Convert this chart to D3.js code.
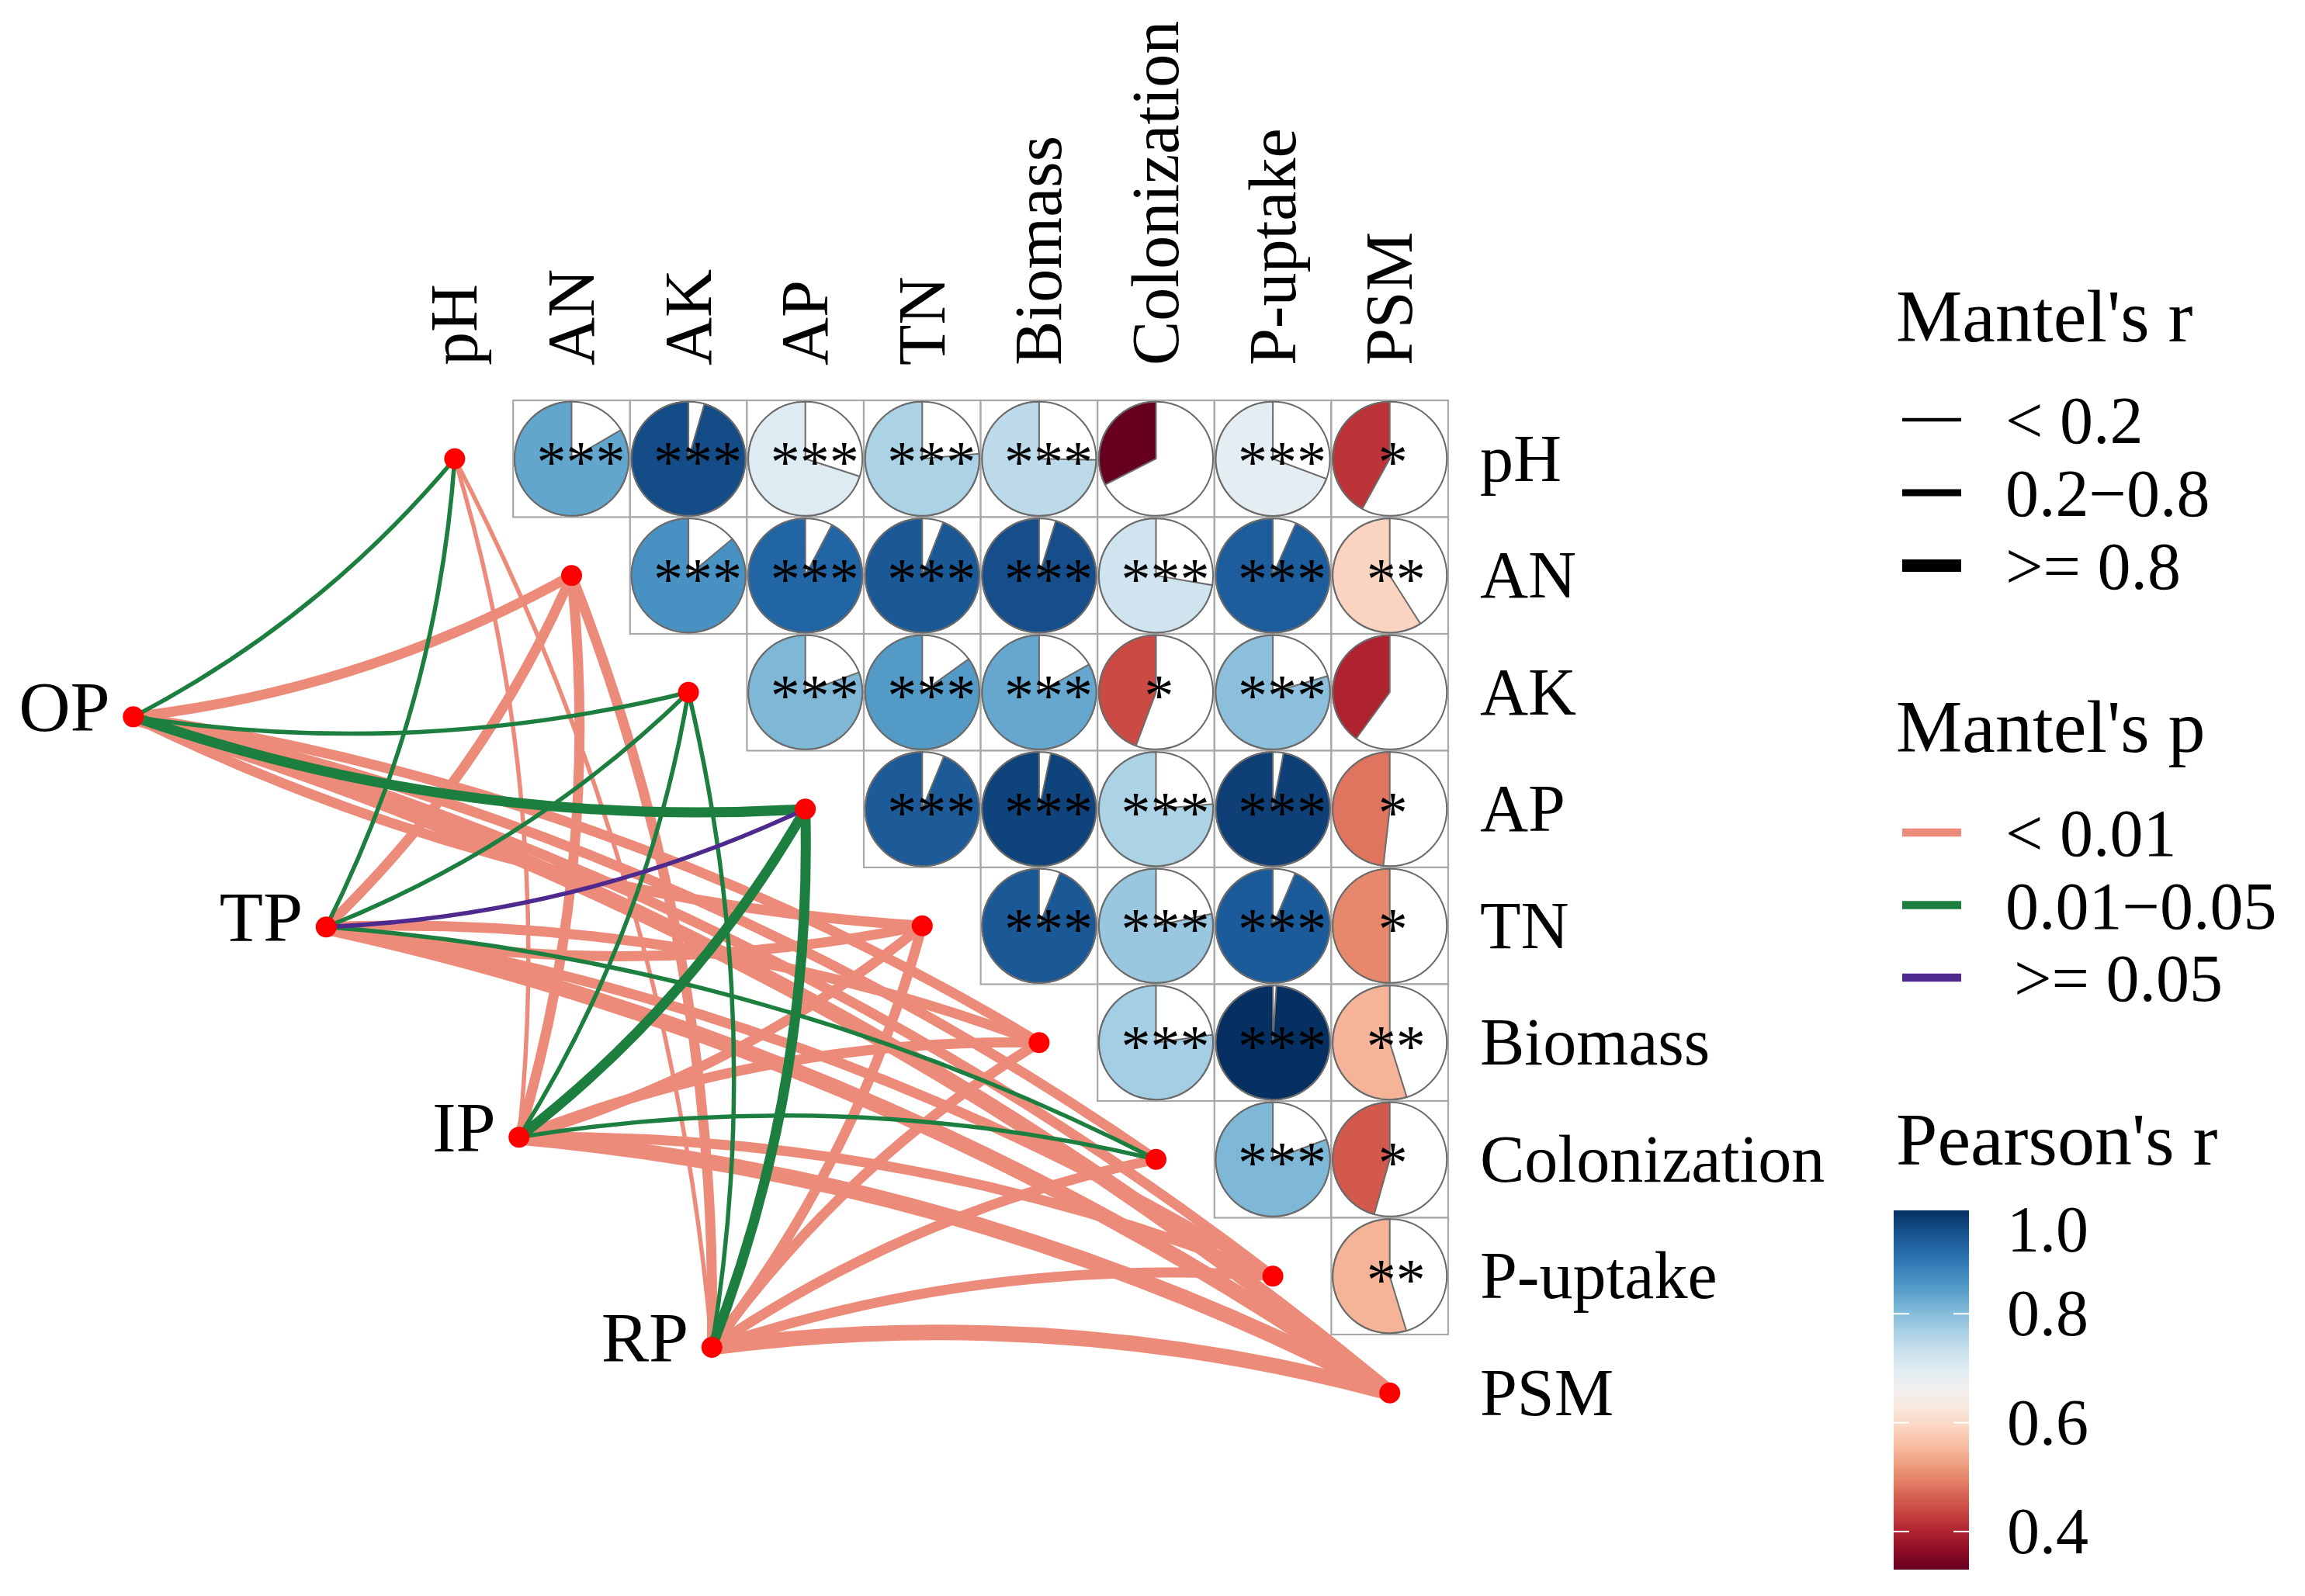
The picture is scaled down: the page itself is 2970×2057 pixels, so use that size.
<!DOCTYPE html>
<html>
<head>
<meta charset="utf-8">
<script src="https://d3js.org/d3.v7.min.js"></script>
<style>
  body { margin: 0; background: #fff; }
  text { font-family: "Liberation Serif", "Times New Roman", serif; fill: #000; }
</style>
</head>
<body>
<div id="chart"></div>
<script>
// variables of the correlation triangle (also the link targets)
const vars = ["pH", "AN", "AK", "AP", "TN", "Biomass", "Colonization", "P-uptake", "PSM"];

// Pearson's r, upper triangle, row i against vars i+1 .. end
const corR = [
  [0.834, 0.955, 0.700, 0.764, 0.747, 0.325, 0.693, 0.420],
  [0.861, 0.923, 0.940, 0.953, 0.723, 0.934, 0.590],
  [0.807, 0.849, 0.831, 0.443, 0.796, 0.400],
  [0.938, 0.967, 0.764, 0.970, 0.482],
  [0.940, 0.784, 0.936, 0.500],
  [0.772, 0.990, 0.548],
  [0.807, 0.456],
  [0.547]
];
const corStars = [
  ["***", "***", "***", "***", "***", "", "***", "*"],
  ["***", "***", "***", "***", "***", "***", "**"],
  ["***", "***", "***", "*", "***", ""],
  ["***", "***", "***", "***", "*"],
  ["***", "***", "***", "*"],
  ["***", "***", "**"],
  ["***", "*"],
  ["**"]
];

// Mantel test links, one entry per target in vars order
const specs = ["OP", "TP", "IP", "RP"];
const mantelRLevels = ["< 0.2", "0.2\u22120.8", ">= 0.8"];
const mantelPLevels = ["< 0.01", "0.01\u22120.05", ">= 0.05"];
const linkR = {
  OP: [0, 1, 0, 1, 1, 1, 1, 1, 2],
  TP: [0, 1, 0, 0, 1, 1, 0, 1, 2],
  IP: [0, 1, 0, 1, 1, 1, 0, 1, 2],
  RP: [0, 1, 0, 1, 1, 1, 1, 1, 2]
};
const linkP = {
  OP: [1, 0, 1, 1, 0, 0, 0, 0, 0],
  TP: [1, 0, 1, 2, 0, 0, 1, 0, 0],
  IP: [0, 0, 1, 1, 0, 0, 1, 0, 0],
  RP: [0, 0, 1, 1, 0, 0, 0, 0, 0]
};

const pearsonTicks = [0.4, 0.6, 0.8];
const pearsonLabels = [["0.4", 0.4], ["0.6", 0.6], ["0.8", 0.8], ["1.0", 0.955]];

// ---------- layout ----------
const W = 2970, H = 2057;
const cellW = 150.6, cellH = 150.5;
const gridLeft = 510.6, gridTop = 516;
const n = vars.length;

const svg = d3.select("#chart").append("svg")
  .attr("width", W).attr("height", H)
  .style("background", "#fff");

const x = d3.scaleLinear().domain([0, n - 1]).range([gridLeft + cellW / 2, gridLeft + cellW * (n - 0.5)]);
const y = d3.scaleLinear().domain([0, n - 1]).range([gridTop + cellH / 2, gridTop + cellH * (n - 0.5)]);

const color = d3.scaleSequential(d3.interpolateRdBu).domain([0.33, 0.99]).clamp(true);
const widthScale = d3.scaleOrdinal().domain([0, 1, 2]).range([5.5, 13, 20]);
const linkColor = d3.scaleOrdinal().domain([0, 1, 2]).range(["#ED8B7B", "#1D7F3F", "#4E2A8E"]);

// spec nodes laid out along a line in grid units
const specStart = [-2.75, 2.21], specEnd = [2.20, 7.61];
const specNodes = specs.map((s, i) => {
  const t = i / (specs.length - 1);
  return {
    name: s,
    x: x(specStart[0] + t * (specEnd[0] - specStart[0])),
    y: y(specStart[1] + t * (specEnd[1] - specStart[1]))
  };
});
const varNodes = vars.map((v, i) => ({ name: v, idx: i, x: x(i), y: y(i) }));

// ---------- links ----------
const links = [];
specNodes.forEach(s => {
  varNodes.forEach((v, j) => {
    links.push({ s, v, r: linkR[s.name][j], p: linkP[s.name][j] });
  });
});
links.sort((a, b) => a.p - b.p);

const midIdx = (n - 1) / 2;
function curvePath(a, b) {
  const dx = b.x - a.x, dy = b.y - a.y;
  const L = Math.hypot(dx, dy);
  // upper half targets bend to the right of travel, lower half to the left
  let nx, ny;
  if (b.idx <= midIdx) { nx = -dy / L; ny = dx / L; } else { nx = dy / L; ny = -dx / L; }
  const k = 0.1 * L;
  const cx = (a.x + b.x) / 2 + nx * k, cy = (a.y + b.y) / 2 + ny * k;
  return `M${a.x},${a.y}Q${cx},${cy} ${b.x},${b.y}`;
}

svg.append("g").selectAll("path").data(links).join("path")
  .attr("d", d => curvePath(d.s, d.v))
  .attr("fill", "none")
  .attr("stroke", d => linkColor(d.p))
  .attr("stroke-width", d => widthScale(d.r))
  .attr("stroke-linecap", "butt");

// ---------- correlation triangle ----------
const gGrid = svg.append("g");
const pieR = 73.5;
const arc = d3.arc().innerRadius(0).outerRadius(pieR);
const cells = [];
corR.forEach((row, i) => row.forEach((r, k) => {
  cells.push({ i, j: i + k + 1, r, stars: corStars[i][k] });
}));

gGrid.selectAll("rect").data(cells).join("rect")
  .attr("x", d => x(d.j) - cellW / 2)
  .attr("y", d => y(d.i) - cellH / 2)
  .attr("width", cellW).attr("height", cellH)
  .attr("fill", "#fff")
  .attr("stroke", "#a8a8a8")
  .attr("stroke-width", 2.2);

const pies = gGrid.selectAll("g.pie").data(cells).join("g")
  .attr("class", "pie")
  .attr("transform", d => `translate(${x(d.j)},${y(d.i)})`);
pies.append("circle").attr("r", pieR)
  .attr("fill", "#fff").attr("stroke", "#6b6b6b").attr("stroke-width", 2);
pies.append("path")
  .attr("d", d => arc({ startAngle: -d.r * 2 * Math.PI, endAngle: 0 }))
  .attr("fill", d => color(d.r))
  .attr("stroke", "#6b6b6b").attr("stroke-width", 2);
pies.append("text")
  .attr("x", d => 4 * d.stars.length)
  .attr("y", 30)
  .attr("text-anchor", "middle")
  .style("font-size", "76px")
  .text(d => d.stars);

// axis labels
svg.append("g").selectAll("text").data(vars).join("text")
  .attr("transform", (d, i) => `translate(${x(i) + 28.5},${gridTop - 45}) rotate(-90)`)
  .style("font-size", "86px")
  .text(d => d);
svg.append("g").selectAll("text").data(vars).join("text")
  .attr("x", gridLeft + cellW * n + 41)
  .attr("y", (d, i) => y(i) + 28.5)
  .style("font-size", "86px")
  .text(d => d);

// nodes
const allNodes = varNodes.concat(specNodes);
svg.append("g").selectAll("circle").data(allNodes).join("circle")
  .attr("cx", d => d.x).attr("cy", d => d.y).attr("r", 13.5)
  .attr("fill", "#FF0000");
svg.append("g").selectAll("text").data(specNodes).join("text")
  .attr("x", d => d.x - 30).attr("y", d => d.y + 18)
  .attr("text-anchor", "end")
  .style("font-size", "92px")
  .text(d => d.name);

// ---------- legends ----------
const lx = 2443, keyX1 = 2451, keyX2 = 2527, labX = 2584;
const legend = svg.append("g");
const legendKeyW = [4.5, 9, 16];

function title(txt, yy) {
  legend.append("text").attr("x", lx).attr("y", yy).style("font-size", "96px").text(txt);
}

title("Mantel's r", 440);
mantelRLevels.forEach((lab, i) => {
  const yy = 541 + i * 94;
  legend.append("line").attr("x1", keyX1).attr("x2", keyX2).attr("y1", yy).attr("y2", yy)
    .attr("stroke", "#000").attr("stroke-width", legendKeyW[i]);
  legend.append("text").attr("x", labX).attr("y", yy + 30).style("font-size", "86px").text(lab);
});

title("Mantel's p", 969);
mantelPLevels.forEach((lab, i) => {
  const yy = 1073 + i * 93.5;
  legend.append("line").attr("x1", keyX1).attr("x2", keyX2).attr("y1", yy).attr("y2", yy)
    .attr("stroke", linkColor(i)).attr("stroke-width", 10.5);
  legend.append("text").attr("x", labX + (i === 2 ? 11 : 0)).attr("y", yy + 30)
    .style("font-size", "86px").text(lab);
});

title("Pearson's r", 1501);
const barX = 2440, barW = 97, barTop = 1560, barBottom = 2023;
const barY = d3.scaleLinear().domain(color.domain()).range([barBottom, barTop]);
const grad = svg.append("defs").append("linearGradient")
  .attr("id", "rdbu").attr("x1", 0).attr("y1", 1).attr("x2", 0).attr("y2", 0);
d3.range(0, 1.0001, 0.05).forEach(t => {
  const v = color.domain()[0] + t * (color.domain()[1] - color.domain()[0]);
  grad.append("stop").attr("offset", t).attr("stop-color", color(v));
});
legend.append("rect").attr("x", barX).attr("y", barTop)
  .attr("width", barW).attr("height", barBottom - barTop)
  .attr("fill", "url(#rdbu)");
pearsonTicks.forEach(v => {
  const yy = barY(v);
  legend.append("line").attr("x1", barX).attr("x2", barX + 20).attr("y1", yy).attr("y2", yy)
    .attr("stroke", "#fff").attr("stroke-width", 2);
  legend.append("line").attr("x1", barX + barW - 20).attr("x2", barX + barW).attr("y1", yy).attr("y2", yy)
    .attr("stroke", "#fff").attr("stroke-width", 2);
});
pearsonLabels.forEach(([lab, v]) => {
  legend.append("text").attr("x", 2586).attr("y", barY(v) + 28)
    .style("font-size", "84px").text(lab);
});
</script>
</body>
</html>
